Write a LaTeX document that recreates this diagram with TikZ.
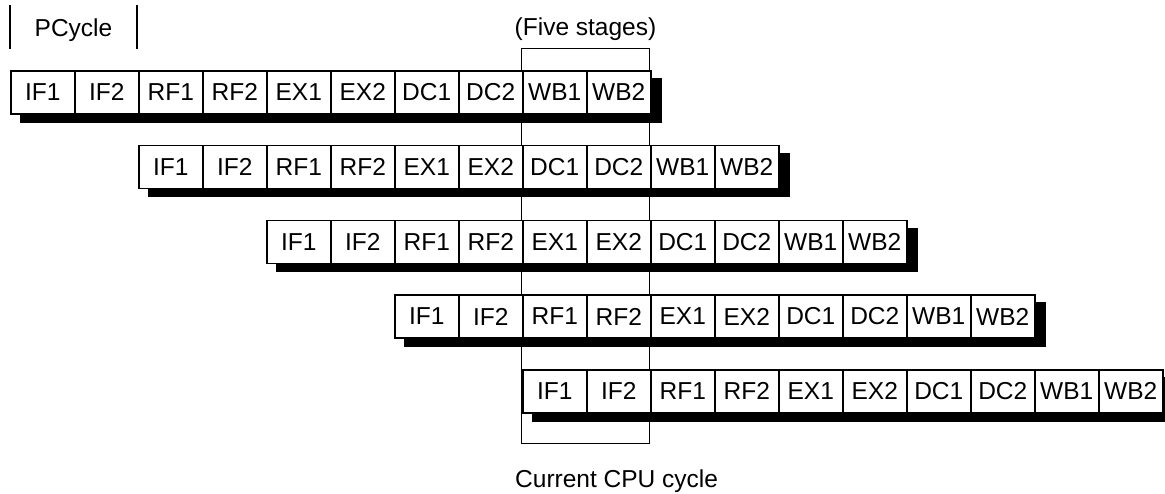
\documentclass[tikz,border=0pt]{standalone}
\usepackage{fontspec}
\setmainfont{Liberation Sans}
\usetikzlibrary{calc,backgrounds}

\begin{document}
\begin{tikzpicture}[x=1pt,y=-1pt,font=\fontsize{24.5}{29}\selectfont,
  etapa/.style={draw,fill=white,line width=1.5pt,inner sep=0pt,
    minimum width=64pt,minimum height=43pt,anchor=north west},
  marco/.style={draw,line width=1pt,inner sep=0pt,
    minimum width=128pt,minimum height=395pt,anchor=north west},
  texto/.style={inner sep=0pt}]

  % Parámetros del dibujo
  \def\cw{64}
  \def\dy{74.75}

  \useasboundingbox (0,0) rectangle (1165,493);

  % Marco del ciclo actual
  \node[marco] (actual) at (521,48) {};
  \node[texto,anchor=base] (cinco) at ($(actual.north)+(0,-13)$) {(Five stages)};
  \node[texto,anchor=base west] (ciclo) at ($(actual.south west)+(-6,43)$) {Current CPU cycle};

  % Etiqueta PCycle
  \node[texto,anchor=base] (pciclo) at (73.5,36) {PCycle};
  \draw[line width=1.5pt] (10,5) -- (10,49);
  \draw[line width=1.5pt] (137,5) -- (137,49);

  % Filas del pipeline, cada una desplazada dos etapas
  \foreach \r in {0,...,4} {
    \foreach \s [count=\c] in {IF1,IF2,RF1,RF2,EX1,EX2,DC1,DC2,WB1,WB2}
      \node[etapa] (f\r-\c) at ({10+2*\cw*\r+\cw*(\c-1)},{70+\dy*\r}) {\s};
    % sombra
    \begin{pgfonlayer}{background}
      \fill ($(f\r-1.north west)+(10,8)$) rectangle ($(f\r-10.south east)+(10,8)$);
    \end{pgfonlayer}
  }

\end{tikzpicture}
\end{document}
